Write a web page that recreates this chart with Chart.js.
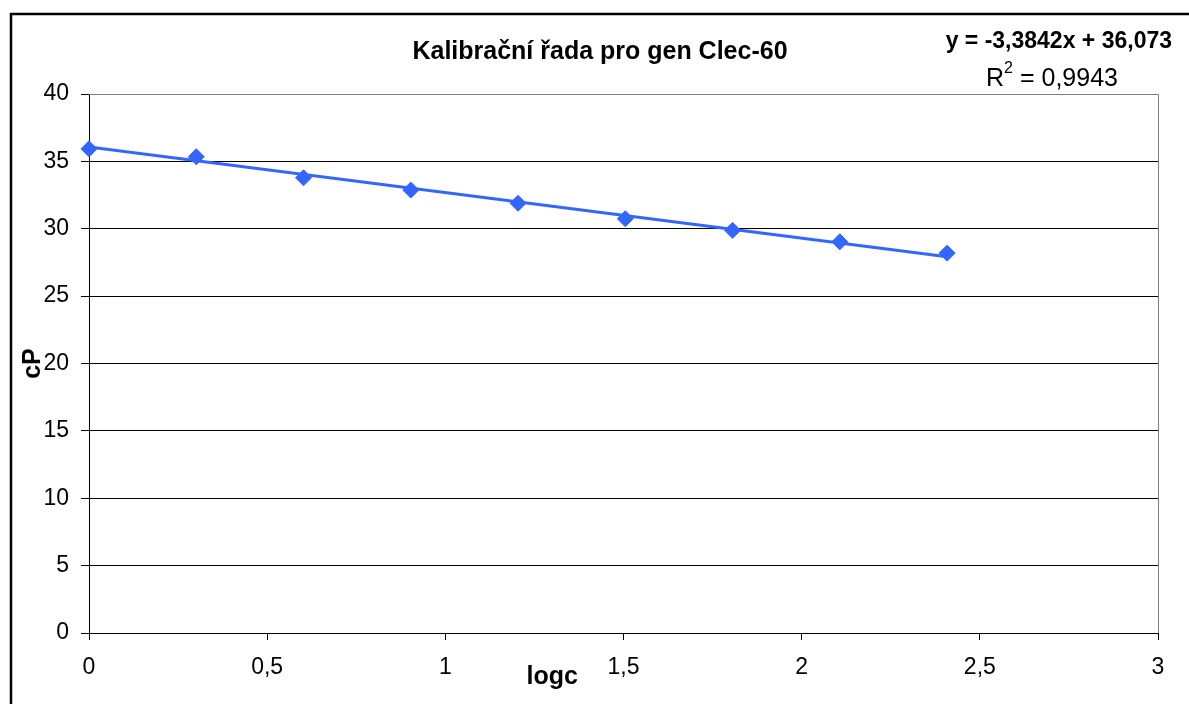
<!DOCTYPE html>
<html>
<head>
<meta charset="utf-8">
<script src="https://cdn.jsdelivr.net/npm/chart.js@4.4.1/dist/chart.umd.min.js"></script>
<style>
  html, body { margin: 0; padding: 0; background: #fff; }
  canvas { display: block; }
</style>
</head>
<body>
<canvas id="kalibrace" width="1189" height="704"></canvas>
<script>
// data
var logc = [0, 0.301, 0.602, 0.903, 1.204, 1.505, 1.806, 2.107, 2.408];
var cP = [35.93, 35.34, 33.78, 32.87, 31.89, 30.74, 29.88, 29.03, 28.19];

// trendline ends (y = -3,3842x + 36,073)
var trendX = [0, 2.408];
var trendY = [36.07, 27.92];

var xTickLabels = ["0", "0,5", "1", "1,5", "2", "2,5", "3"];
var yTickLabels = ["0", "5", "10", "15", "20", "25", "30", "35", "40"];

var chartTitle = "Kalibrační řada pro gen Clec-60";
var xTitle = "logc";
var yTitle = "cP";
var equation = "y = -3,3842x + 36,073";
var rSquared = "0,9943";

var FONT = "'Liberation Sans', Arial, sans-serif";
var BLUE = "#3366FF";

// frame, right border of the plot and the free texts
var excelLook = {
  id: "excelLook",
  beforeDraw: function (chart) {
    var ctx = chart.ctx;
    ctx.save();
    ctx.fillStyle = "#fff";
    ctx.fillRect(0, 0, chart.width, chart.height);
    ctx.strokeStyle = "#000";
    ctx.lineWidth = 2.5;
    ctx.strokeRect(11, 14, 2000, 2000);
    ctx.restore();
  },
  beforeDatasetsDraw: function (chart) {
    var ctx = chart.ctx;
    var a = chart.chartArea;
    ctx.save();
    ctx.strokeStyle = "#808080";
    ctx.lineWidth = 1;
    ctx.beginPath();
    ctx.moveTo(a.left, a.top + 0.5);
    ctx.lineTo(a.right + 0.5, a.top + 0.5);
    ctx.lineTo(a.right + 0.5, a.bottom);
    ctx.stroke();
    ctx.restore();
  },
  afterDraw: function (chart) {
    var ctx = chart.ctx;
    ctx.save();
    ctx.fillStyle = "#000";
    ctx.textBaseline = "middle";

    // x axis title sits left of centre, as in the original
    ctx.font = "bold 25px " + FONT;
    ctx.textAlign = "center";
    ctx.fillText(xTitle, chart.scales.x.getPixelForValue(1.3), 677);

    // trendline equation
    ctx.font = "bold 23px " + FONT;
    ctx.textAlign = "right";
    ctx.fillText(equation, 1172, 42);

    // R^2 line
    ctx.textAlign = "left";
    var big = "25px " + FONT, small = "16px " + FONT;
    ctx.font = big;
    var wR = ctx.measureText("R").width;
    var wRest = ctx.measureText(" = " + rSquared).width;
    ctx.font = small;
    var w2 = ctx.measureText("2").width;
    var x0 = 1052 - (wR + w2 + wRest) / 2;
    ctx.font = big;
    ctx.fillText("R", x0, 79);
    ctx.font = small;
    ctx.fillText("2", x0 + wR, 69);
    ctx.font = big;
    ctx.fillText(" = " + rSquared, x0 + wR + w2, 79);
    ctx.restore();
  }
};

var ctx = document.getElementById("kalibrace").getContext("2d");

var chart = new Chart(ctx, {
  type: "scatter",
  data: {
    datasets: [
      {
        label: "cP",
        data: logc.map(function (x, i) { return { x: x, y: cP[i] }; }),
        pointStyle: "rectRot",
        pointRadius: 8,
        pointHoverRadius: 8,
        borderWidth: 1,
        backgroundColor: BLUE,
        borderColor: BLUE,
        showLine: false,
        clip: false
      },
      {
        label: "trend",
        data: trendX.map(function (x, i) { return { x: x, y: trendY[i] }; }),
        showLine: true,
        pointRadius: 0,
        borderColor: BLUE,
        borderWidth: 3
      }
    ]
  },
  options: {
    responsive: false,
    animation: false,
    devicePixelRatio: 1,
    layout: { padding: { left: 42, right: 31, top: 0, bottom: 0 } },
    scales: {
      x: {
        type: "linear",
        min: 0,
        max: 3,
        afterFit: function (scale) { scale.height = 71; },
        afterBuildTicks: function (scale) {
          scale.ticks = xTickLabels.map(function (t, i) { return { value: i * 0.5 }; });
        },
        ticks: {
          callback: function (value, index) { return xTickLabels[index]; },
          font: { family: FONT, size: 23 },
          color: "#000",
          padding: 14,
          maxRotation: 0
        },
        grid: { drawOnChartArea: false, drawTicks: true, tickLength: 7, tickColor: "#000" },
        border: { display: true, color: "#000", width: 1 },
        title: { display: false }
      },
      y: {
        type: "linear",
        min: 0,
        max: 40,
        afterFit: function (scale) { scale.width = 47; },
        afterBuildTicks: function (scale) {
          scale.ticks = yTickLabels.map(function (t, i) { return { value: i * 5 }; });
        },
        ticks: {
          callback: function (value, index) { return yTickLabels[index]; },
          font: { family: FONT, size: 23 },
          color: "#000",
          padding: 12
        },
        grid: {
          color: function (c) { return c.tick && c.tick.value === 40 ? "#808080" : "#000"; },
          lineWidth: 1,
          tickLength: 8,
          tickColor: "#000"
        },
        border: { display: true, color: "#000", width: 1 },
        title: {
          display: true,
          text: yTitle,
          font: { family: FONT, size: 25, weight: "bold" },
          color: "#000",
          padding: { top: -24, bottom: 0 }
        }
      }
    },
    plugins: {
      legend: { display: false },
      tooltip: { enabled: false },
      title: {
        display: true,
        text: chartTitle,
        font: { family: FONT, size: 25, weight: "bold" },
        color: "#000",
        padding: { top: 37, bottom: 27 }
      }
    }
  },
  plugins: [excelLook]
});
</script>
</body>
</html>
